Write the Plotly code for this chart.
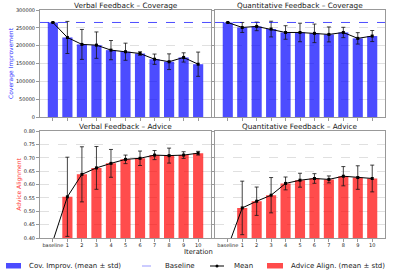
import plotly.graph_objects as go

iter_labels = ["baseline", "1", "2", "3", "4", "5", "6", "7", "8", "9", "10"]
x_pos = list(range(len(iter_labels)))

verbal_cov_mean = [265000, 223000, 203500, 201500, 187500, 183000, 178000, 162000, 155000, 167000, 148000]
verbal_cov_std = [0, 45000, 42000, 37000, 27000, 24000, 5000, 14500, 22000, 13000, 34000]
quant_cov_mean = [265000, 251000, 254000, 246500, 237000, 237000, 234500, 231500, 237000, 220500, 227000]
quant_cov_std = [0, 14000, 12000, 22000, 19000, 26000, 26000, 21000, 14500, 16000, 15500]
verbal_adv_mean = [0.388, 0.554, 0.638, 0.662, 0.679, 0.694, 0.698, 0.710, 0.708, 0.710, 0.717]
verbal_adv_std = [0, 0.148, 0.103, 0.080, 0.052, 0.016, 0.027, 0.017, 0.028, 0.0125, 0.007]
quant_adv_mean = [0.365, 0.5125, 0.5375, 0.560, 0.604, 0.616, 0.6225, 0.619, 0.631, 0.626, 0.6225]
quant_adv_std = [0, 0.100, 0.053, 0.066, 0.024, 0.026, 0.018, 0.013, 0.036, 0.044, 0.050]
coverage_baseline = 265000

titles = ["Verbal Feedback – Coverage", "Quantitative Feedback – Coverage",
          "Verbal Feedback – Advice", "Quantitative Feedback – Advice"]
legend_labels = ["Cov. Improv. (mean ± std)", "Baseline", "Mean", "Advice Align. (mean ± std)"]

BLUE = "rgba(0,0,255,0.7)"
RED = "rgba(255,0,0,0.7)"
ERR = "rgba(20,20,20,0.8)"
FONT = "DejaVu Sans"
TXT = "#222222"

fig = go.Figure()

panels = [
    (verbal_cov_mean, verbal_cov_std, BLUE, "x", "y"),
    (quant_cov_mean, quant_cov_std, BLUE, "x2", "y2"),
    (verbal_adv_mean, verbal_adv_std, RED, "x3", "y3"),
    (quant_adv_mean, quant_adv_std, RED, "x4", "y4"),
]

for m, s, col, xa, ya in panels:
    fig.add_trace(go.Bar(
        x=x_pos, y=m, width=0.7, marker=dict(color=col, line=dict(width=0)),
        error_y=dict(type="data", array=s, color=ERR, thickness=1, width=2),
        showlegend=False, xaxis=xa, yaxis=ya, hoverinfo="skip",
    ))
    fig.add_trace(go.Scatter(
        x=x_pos, y=m, mode="lines+markers",
        line=dict(color="black", width=1),
        marker=dict(color="black", size=3, symbol="square"),
        showlegend=False, xaxis=xa, yaxis=ya, hoverinfo="skip",
    ))

for xr, yr in (("x", "y"), ("x2", "y2")):
    fig.add_shape(type="line", xref=xr + " domain", yref=yr,
                  x0=0, x1=1, y0=coverage_baseline, y1=coverage_baseline,
                  line=dict(color=BLUE, dash="dash", width=1))

ML, MR, MT, MB = 40, 11, 10, 38
W, H = 396, 276
PW, PH = W - ML - MR, H - MT - MB


def px(x):
    return (x - ML) / PW


def py(y):
    return (H - MB - y) / PH


dom_l = [px(40), px(211)]
dom_r = [px(215), px(385)]
dom_top = [py(117), py(10)]
dom_bot = [py(238), py(131)]

axis_common = dict(showline=True, linecolor="#999999", linewidth=1, mirror=True,
                   ticks="outside", ticklen=3, tickcolor="#999999", automargin=False,
                   tickfont=dict(size=5, family=FONT, color=TXT), zeroline=False)

xcommon = dict(axis_common, range=[-0.885, 10.885], tickvals=x_pos, ticktext=iter_labels,
               showgrid=False, ticklabelstandoff=-1)
ycommon = dict(axis_common, showgrid=True, gridcolor="rgba(0,0,0,0.12)", griddash="dash",
               gridwidth=0.6)

fig.update_layout(
    xaxis=dict(xcommon, domain=dom_l, anchor="y", showticklabels=False),
    xaxis2=dict(xcommon, domain=dom_r, anchor="y2", showticklabels=False),
    xaxis3=dict(xcommon, domain=dom_l, anchor="y3"),
    xaxis4=dict(xcommon, domain=dom_r, anchor="y4"),
    yaxis=dict(ycommon, domain=dom_top, anchor="x", range=[0, 300000], dtick=50000,
               tickformat="d",
               title=dict(text="Coverage Improvement", font=dict(size=6, family=FONT, color="#3333ff"),
                          standoff=1)),
    yaxis2=dict(ycommon, domain=dom_top, anchor="x2", range=[0, 300000], dtick=50000,
                showticklabels=False),
    yaxis3=dict(ycommon, domain=dom_bot, anchor="x3", range=[0.4, 0.8], dtick=0.05,
                tickformat=".2f",
                title=dict(text="Advice Alignment", font=dict(size=6, family=FONT, color="#ff3333"),
                           standoff=1)),
    yaxis4=dict(ycommon, domain=dom_bot, anchor="x4", range=[0.4, 0.8], dtick=0.05,
                showticklabels=False),
)

# panel titles
cl, cr = (dom_l[0] + dom_l[1]) / 2, (dom_r[0] + dom_r[1]) / 2
title_pos = [(cl, py(5)), (cr, py(5)), (cl, py(126.5)), (cr, py(126.5))]
for t, (xp, yp) in zip(titles, title_pos):
    fig.add_annotation(text=t, x=xp, y=yp, xref="paper", yref="paper", showarrow=False,
                       xanchor="center", yanchor="middle",
                       font=dict(size=7.3, family=FONT, color=TXT))

fig.add_annotation(text="Iteration", x=px(198), y=py(252), xref="paper", yref="paper",
                   showarrow=False, xanchor="center", yanchor="middle",
                   font=dict(size=6.8, family=FONT, color=TXT))

# manual legend row
LY = 266
fig.add_shape(type="rect", xref="paper", yref="paper", x0=px(6), x1=px(21), y0=py(268.5), y1=py(263),
              fillcolor=BLUE, line=dict(width=0))
fig.add_shape(type="line", xref="paper", yref="paper", x0=px(142), x1=px(157), y0=py(LY), y1=py(LY),
              line=dict(color="rgba(0,0,255,0.4)", dash="dash", width=1))
fig.add_shape(type="line", xref="paper", yref="paper", x0=px(210), x1=px(224), y0=py(LY), y1=py(LY),
              line=dict(color="black", width=1))
fig.add_shape(type="circle", xref="paper", yref="paper", x0=px(215.5), x1=px(218.5),
              y0=py(LY + 1.5), y1=py(LY - 1.5), fillcolor="black", line=dict(width=0))
fig.add_shape(type="rect", xref="paper", yref="paper", x0=px(267), x1=px(283), y0=py(268.5), y1=py(263),
              fillcolor=RED, line=dict(width=0))
for lab, xs in zip(legend_labels, [27, 163, 232, 289]):
    fig.add_annotation(text=lab, x=px(xs), y=py(LY), xref="paper", yref="paper", showarrow=False,
                       xanchor="left", yanchor="middle",
                       font=dict(size=7, family=FONT, color=TXT))

fig.update_layout(
    width=W, height=H,
    margin=dict(l=ML, r=MR, t=MT, b=MB, autoexpand=False),
    paper_bgcolor="white", plot_bgcolor="white",
    barmode="overlay",
    showlegend=False,
    hovermode=False,
)

fig.write_html("out.html", config={"displayModeBar": False},
               post_script="document.body.style.margin='0px';")
